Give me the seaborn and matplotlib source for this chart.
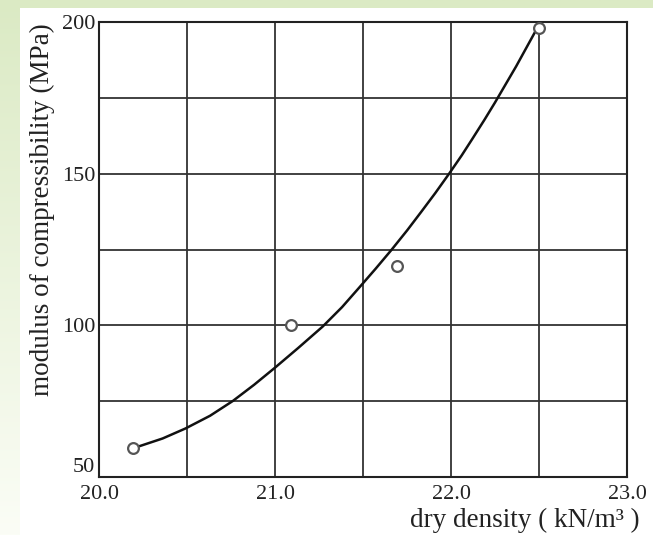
import numpy as np
import matplotlib
matplotlib.use('Agg')
import matplotlib.pyplot as plt
import seaborn as sns

# measured points (open circles)
density = [20.19, 21.09, 21.69, 22.50]
modulus = [59.4, 100.0, 119.7, 198.1]

# hand-drawn trend curve
curve_density = [20.22, 20.36, 20.49, 20.63, 20.76, 20.88, 21.00, 21.13, 21.27,
                 21.38, 21.48, 21.57, 21.66, 21.75, 21.83, 21.91, 21.99, 22.06,
                 22.12, 22.19, 22.25, 22.37, 22.48]
curve_modulus = [60.0, 62.7, 66.0, 70.2, 75.1, 80.4, 86.1, 92.5, 99.6,
                 106.0, 112.6, 118.6, 124.8, 131.3, 137.4, 143.6, 150.1, 156.0,
                 161.4, 167.8, 173.5, 185.4, 197.0]

x_ticks = [20.0, 21.0, 22.0, 23.0]
y_ticks = [50, 100, 150, 200]

sns.set_style('white')
plt.rcParams['font.family'] = ['Liberation Serif', 'DejaVu Serif']

fig = plt.figure(figsize=(6.53, 5.35), dpi=100)

# light green frame fading to white at the bottom
bg = fig.add_axes([0, 0, 1, 1])
grad = np.linspace(0, 1, 256)[:, None]
bg.imshow(grad, aspect='auto', extent=[0, 1, 0, 1], origin='upper',
          cmap=matplotlib.colors.LinearSegmentedColormap.from_list(
              'g', ['#dbeac4', '#fbfdf6']))
bg.add_patch(plt.Rectangle((20 / 653, 0), 1, 1 - 8 / 535, color='white', lw=0))
bg.set_xlim(0, 1)
bg.set_ylim(0, 1)
bg.axis('off')

ax = fig.add_axes([99.3 / 653, 1 - 477 / 535, (627 - 99.3) / 653, (477 - 22) / 535])
ax.set_facecolor('white')

sns.lineplot(x=curve_density, y=curve_modulus, ax=ax, color='#111111', lw=1.8,
             sort=False, zorder=3)
sns.scatterplot(x=density, y=modulus, ax=ax, s=60, facecolor='white',
                edgecolor='#555555', linewidth=1.6, zorder=4)

ax.set_xlim(20.0, 23.0)
ax.set_ylim(50, 200)
ax.set_xticks(np.arange(20.0, 23.01, 0.5), minor=True)
ax.set_yticks(np.arange(50, 201, 25), minor=True)
ax.set_xticks(x_ticks)
ax.set_yticks(y_ticks)
ax.set_xticklabels([f'{v:.1f}' for v in x_ticks], fontsize=16)
ax.set_yticklabels([str(v) for v in y_ticks], fontsize=16)
ax.grid(True, which='both', color='#333333', lw=1.3)
ax.tick_params(axis='x', which='both', length=0, pad=6, colors='#222222')
ax.tick_params(axis='y', which='both', length=0, pad=3, colors='#222222')
# bottom y label sits a little above its gridline, as in the original
ax.get_yticklabels()[0].set_verticalalignment('bottom')
for s in ax.spines.values():
    s.set_color('#222222')
    s.set_linewidth(1.5)
ax.set_xlabel('')
ax.set_ylabel('')

fig.text(640 / 653, 1 - 520 / 535, 'dry density ( kN/m³ )', ha='right', va='center',
         fontsize=19.5, color='#222222')
fig.text(42 / 653, 1 - 210 / 535, 'modulus of compressibility (MPa)', rotation=90,
         ha='center', va='center', fontsize=19.5, color='#222222')

fig.savefig('out.png', dpi=100)
